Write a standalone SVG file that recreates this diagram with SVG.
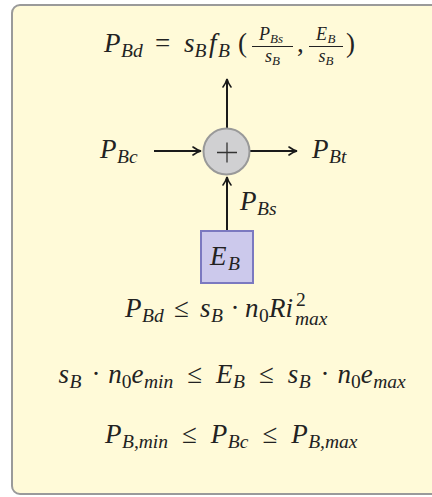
<svg xmlns="http://www.w3.org/2000/svg" width="432" height="497" viewBox="0 0 432 497">
<defs>
<style>
.m{font-family:"Liberation Serif","DejaVu Serif",serif;font-style:italic;font-size:27px;fill:#222}
.up{font-style:normal}
.s{font-size:19.5px}
.f{font-size:18px}
.fs{font-size:13px}
.ln{stroke:#1a1a1a;stroke-width:2;fill:none}
</style>
<marker id="ah" viewBox="0 0 10 10" refX="9" refY="5" markerWidth="10" markerHeight="10" markerUnits="userSpaceOnUse" orient="auto">
<path d="M1,1 Q5,4 9,5 Q5,6 1,9" fill="none" stroke="#1a1a1a" stroke-width="1.6" stroke-linecap="round"/>
</marker>
</defs>
<rect x="12" y="5" width="440" height="489" rx="8" fill="#fffad8" stroke="#9a9a9a" stroke-width="2"/>
<g id="connectors">
<line class="ln" x1="227" y1="128" x2="227" y2="79" marker-end="url(#ah)"/>
<line class="ln" x1="154" y1="151" x2="201" y2="151" marker-end="url(#ah)"/>
<line class="ln" x1="250" y1="151" x2="297" y2="151" marker-end="url(#ah)"/>
<line class="ln" x1="227" y1="230" x2="227" y2="177" marker-end="url(#ah)"/>
</g>
<g id="sum">
<circle cx="226.5" cy="151.5" r="23" fill="#d0d0d2" stroke="#999" stroke-width="2"/>
<path d="M217,152.5 H237 M227,142.5 V162.5" stroke="#333" stroke-width="1.3"/>
</g>
<g id="EB">
<rect x="201" y="231" width="52" height="52" fill="#ccc9ec" stroke="#7b79c0" stroke-width="2"/>
<text class="m" x="210" y="265">E<tspan class="s" x="228" y="270">B</tspan></text>
</g>
<g id="PBd">
<text class="m" x="104" y="52">P<tspan class="s" x="121" y="57">Bd</tspan><tspan class="up" x="155" y="52">=</tspan><tspan x="184">s</tspan><tspan class="s" x="194.5" y="57">B</tspan><tspan x="209" y="52">f</tspan><tspan class="s" x="218" y="57">B</tspan><tspan class="up" x="238" y="52">(</tspan></text>
<text class="m f" x="259" y="40">P<tspan class="fs" x="270" y="42.5">Bs</tspan></text>
<line x1="252" y1="46.5" x2="293" y2="46.5" stroke="#222" stroke-width="1"/>
<text class="m f" x="265" y="62">s<tspan class="fs" x="272" y="65">B</tspan></text>
<text class="m up" x="297" y="52">,</text>
<text class="m f" x="316" y="40">E<tspan class="fs" x="327.5" y="42.5">B</tspan></text>
<line x1="309" y1="46.5" x2="343" y2="46.5" stroke="#222" stroke-width="1"/>
<text class="m f" x="318.5" y="62">s<tspan class="fs" x="325.5" y="65">B</tspan></text>
<text class="m up" x="346" y="52">)</text>
</g>
<g id="PBc"><text class="m" x="100" y="158">P<tspan class="s" x="117" y="163">Bc</tspan></text></g>
<g id="PBt"><text class="m" x="312" y="158">P<tspan class="s" x="329" y="163">Bt</tspan></text></g>
<g id="PBs"><text class="m" x="240" y="210">P<tspan class="s" x="257" y="215">Bs</tspan></text></g>
<g id="c1"><text class="m" x="125" y="317">P<tspan class="s" x="142" y="322">Bd</tspan><tspan class="up" x="174" y="317">≤</tspan><tspan x="200">s</tspan><tspan class="s" x="211" y="322">B</tspan><tspan class="up" x="230.5" y="317">·</tspan><tspan x="245">n</tspan><tspan class="s up" x="259" y="322">0</tspan><tspan x="269" y="317">Ri</tspan><tspan class="s up" x="296" y="306">2</tspan><tspan class="s" x="295" y="325">max</tspan></text></g>
<g id="c2"><text class="m" x="58.5" y="383">s<tspan class="s" x="69.5" y="388">B</tspan><tspan class="up" x="91.4" y="383">·</tspan><tspan x="108.2">n</tspan><tspan class="s up" x="121.7" y="388">0</tspan><tspan x="131.5" y="383">e</tspan><tspan class="s" x="144" y="388">min</tspan><tspan class="up" x="187.2" y="383">≤</tspan><tspan x="216">E</tspan><tspan class="s" x="233" y="388">B</tspan><tspan class="up" x="258.9" y="383">≤</tspan><tspan x="287.7">s</tspan><tspan class="s" x="298.7" y="388">B</tspan><tspan class="up" x="320.6" y="383">·</tspan><tspan x="337.4">n</tspan><tspan class="s up" x="350.9" y="388">0</tspan><tspan x="360.7" y="383">e</tspan><tspan class="s" x="373.2" y="388">max</tspan></text></g>
<g id="c3"><text class="m" x="105" y="443">P<tspan class="s" x="122" y="448">B,min</tspan><tspan class="up" x="182" y="443">≤</tspan><tspan x="210.8">P</tspan><tspan class="s" x="227.8" y="448">Bc</tspan><tspan class="up" x="262.4" y="443">≤</tspan><tspan x="291.2">P</tspan><tspan class="s" x="308.2" y="448">B,max</tspan></text></g>
</svg>
